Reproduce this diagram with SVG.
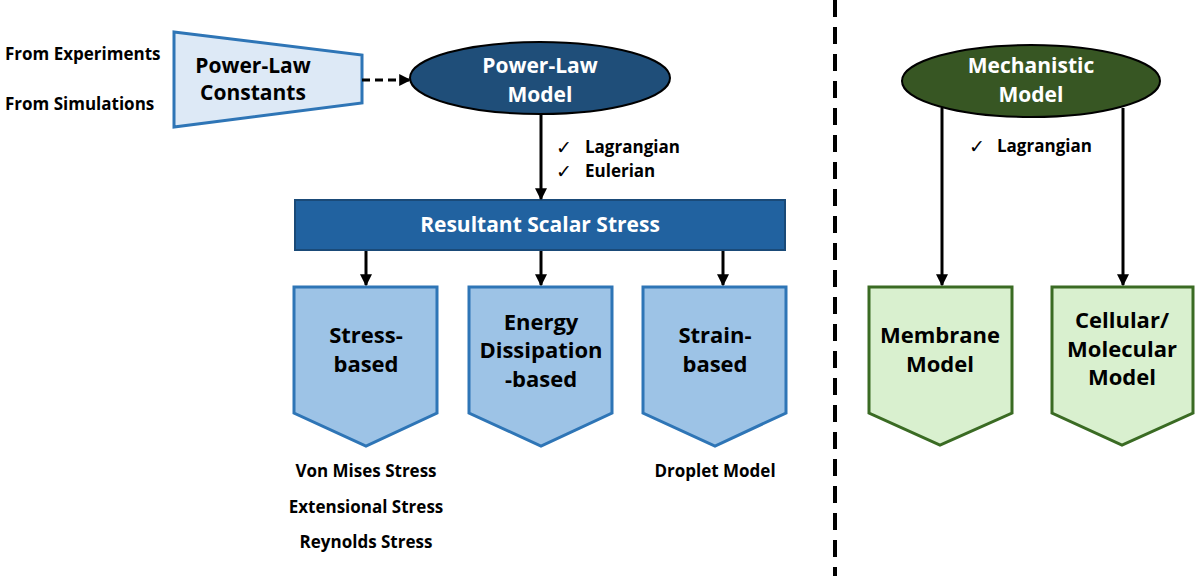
<svg xmlns="http://www.w3.org/2000/svg" width="1200" height="576" viewBox="0 0 1200 576">
<defs>
<marker id="ah" viewBox="0 0 10 10" refX="9" refY="5" markerWidth="4" markerHeight="4" markerUnits="strokeWidth" orient="auto">
<path d="M0,0 L10,5 L0,10 Z" fill="#000"/>
</marker>
<style>
text{font-family:"Open Sans","Noto Sans","Liberation Sans",sans-serif;font-weight:bold;text-anchor:middle;}
.lbl{font-size:17px;fill:#000;}
.chk{font-size:19px;fill:#000;font-weight:normal;font-family:"DejaVu Sans",sans-serif;text-anchor:start;}
.big{font-size:21px;}
.pt{font-size:22px;fill:#000;}
.w{fill:#fff;}
.k{fill:#000;}
.conn{stroke:#000;stroke-width:3;fill:none;marker-end:url(#ah);}
.bluep{fill:#9dc3e6;stroke:#2e75b6;stroke-width:3;}
.greenp{fill:#d9f0cf;stroke:#3a6b23;stroke-width:3;}
</style>
</defs>
<rect width="1200" height="576" fill="#fff"/>

<g id="sources">
<text class="lbl" x="5" y="60" style="text-anchor:start">From Experiments</text>
<text class="lbl" x="5" y="110" style="text-anchor:start">From Simulations</text>
</g>

<g id="constants">
<polygon points="174,32 362,55 362,103 174,127" fill="#dde9f6" stroke="#2e75b6" stroke-width="3"/>
<text class="big k" x="253" y="73">Power-Law</text>
<text class="big k" x="253" y="100">Constants</text>
</g>

<g id="powerlaw">
<ellipse cx="540" cy="78" rx="130" ry="36" fill="#1f4e79" stroke="#000" stroke-width="2"/>
<text class="big w" x="540" y="73">Power-Law</text>
<text class="big w" x="540" y="102">Model</text>
</g>

<g id="resultant">
<rect x="295" y="200" width="490" height="50" fill="#2162a0" stroke="#1a4a78" stroke-width="2"/>
<text class="big w" x="540" y="232">Resultant Scalar Stress</text>
</g>

<g id="stress">
<polygon class="bluep" points="294,287 437,287 437,413 366,446 294,413"/>
<text class="pt" x="366" y="343">Stress-</text>
<text class="pt" x="366" y="372">based</text>
</g>

<g id="energy">
<polygon class="bluep" points="469,287 612,287 612,413 541,446 469,413"/>
<text class="pt" x="541" y="330">Energy</text>
<text class="pt" x="541" y="358">Dissipation</text>
<text class="pt" x="541" y="387">-based</text>
</g>

<g id="strain">
<polygon class="bluep" points="643,287 786,287 786,413 715,446 643,413"/>
<text class="pt" x="715" y="343">Strain-</text>
<text class="pt" x="715" y="372">based</text>
</g>

<g id="stress-list">
<text class="lbl" x="366" y="477">Von Mises Stress</text>
<text class="lbl" x="366" y="513">Extensional Stress</text>
<text class="lbl" x="366" y="548">Reynolds Stress</text>
</g>

<g id="strain-list">
<text class="lbl" x="715" y="477">Droplet Model</text>
</g>

<g id="pl-labels">
<text class="chk" x="556" y="154">✓</text>
<text class="lbl" x="585" y="153" style="text-anchor:start">Lagrangian</text>
<text class="chk" x="556" y="178">✓</text>
<text class="lbl" x="585" y="177" style="text-anchor:start">Eulerian</text>
</g>

<g id="divider">
<line x1="835" y1="0" x2="835" y2="576" stroke="#000" stroke-width="4" stroke-dasharray="17,10"/>
</g>

<g id="mechanistic">
<ellipse cx="1031" cy="81" rx="129" ry="36" fill="#375623" stroke="#000" stroke-width="2"/>
<text class="big w" x="1031" y="73">Mechanistic</text>
<text class="big w" x="1031" y="102">Model</text>
</g>

<g id="mech-labels">
<text class="chk" x="969" y="153">✓</text>
<text class="lbl" x="997" y="152" style="text-anchor:start">Lagrangian</text>
</g>

<g id="membrane">
<polygon class="greenp" points="869,287 1012,287 1012,413 940,445 869,413"/>
<text class="pt" x="940" y="343">Membrane</text>
<text class="pt" x="940" y="372">Model</text>
</g>

<g id="cellular">
<polygon class="greenp" points="1052,287 1193,287 1193,413 1122,445 1052,413"/>
<text class="pt" x="1122" y="328">Cellular/</text>
<text class="pt" x="1122" y="357">Molecular</text>
<text class="pt" x="1122" y="385">Model</text>
</g>

<g id="connectors">
<line class="conn" x1="362" y1="80" x2="410" y2="80" stroke-dasharray="8,5"/>
<line class="conn" x1="541" y1="114" x2="541" y2="199"/>
<line class="conn" x1="366" y1="251" x2="366" y2="285"/>
<line class="conn" x1="541" y1="251" x2="541" y2="285"/>
<line class="conn" x1="723" y1="251" x2="723" y2="285"/>
<line class="conn" x1="942" y1="108" x2="942" y2="285"/>
<line class="conn" x1="1123" y1="108" x2="1123" y2="285"/>
</g>
</svg>
